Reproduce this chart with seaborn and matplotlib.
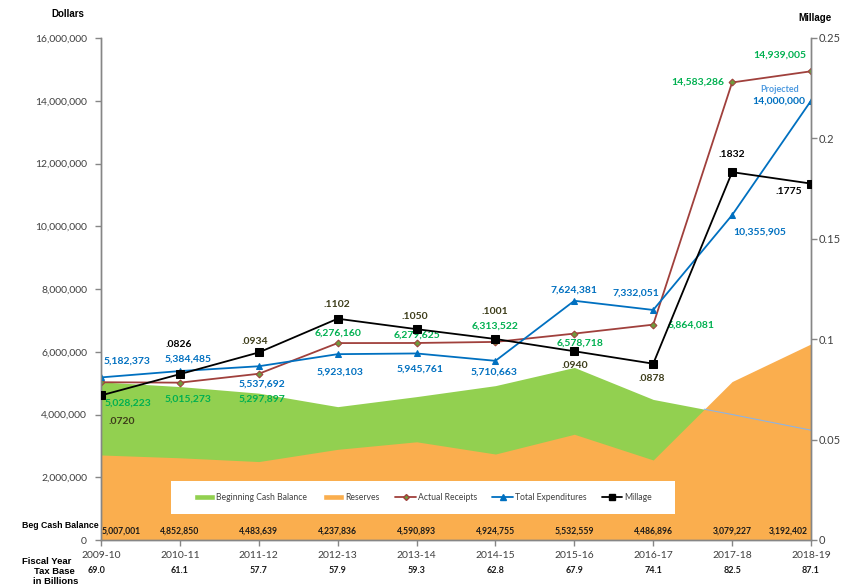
import matplotlib
matplotlib.use("Agg")
import matplotlib.pyplot as plt
import seaborn as sns
import pandas as pd
from matplotlib.lines import Line2D
from matplotlib.patches import Patch, Rectangle
from matplotlib.ticker import FuncFormatter

years = ["2009-10", "2010-11", "2011-12", "2012-13", "2013-14",
         "2014-15", "2015-16", "2016-17", "2017-18", "2018-19"]
beg_cash = [5007001, 4852850, 4483639, 4237836, 4590893,
            4924755, 5532559, 4486896, 3079227, 3192402]
cash_area = [5040000, 4890000, 4680000, 4250000, 4570000,
             4920000, 5500000, 4480000, 4000000, 3500000]
reserves = [2710000, 2620000, 2500000, 2890000, 3130000,
            2740000, 3370000, 2550000, 5050000, 6250000]
receipts = [5028223, 5015273, 5297897, 6276160, 6279625,
            6313522, 6578718, 6864081, 14583286, 14939005]
expenditures = [5182373, 5384485, 5537692, 5923103, 5945761,
                5710663, 7624381, 7332051, 10355905, 14000000]
millage = [0.0720, 0.0826, 0.0934, 0.1102, 0.1050,
           0.1001, 0.0940, 0.0878, 0.1832, 0.1775]
tax_base = [69.0, 61.1, 57.7, 57.9, 59.3, 62.8, 67.9, 74.1, 82.5, 87.1]

GREEN = "#92D050"
ORANGE = "#FAAE4E"
BROWN = "#A0403C"
BLUE = "#0070C0"
LBL_GREEN = "#00B050"
OLIVE = "#3D3D1A"
AXC = "#868686"
TXT = "#404040"

sns.set_style("white")
plt.rcParams["font.family"] = ["Lato", "DejaVu Sans"]

df = pd.DataFrame({"x": range(len(years)), "receipts": receipts,
                   "expenditures": expenditures, "millage": millage})

fig = plt.figure(figsize=(8.43, 5.87), dpi=100)
ax = fig.add_axes([101 / 843, 1 - 540 / 587, 710 / 843, 502 / 587])
ax2 = ax.twinx()

x = df["x"]
ax.fill_between(x, cash_area, color=GREEN, lw=0, zorder=1)
ax.fill_between(x, reserves, color=ORANGE, lw=0, zorder=2)

# edge of the cash area where it runs out from under the reserves
g0, g1 = cash_area[7], cash_area[8]
r0, r1 = reserves[7], reserves[8]
t = (g0 - r0) / ((r1 - r0) - (g1 - g0))
ax.plot([7 + t, 8, 9], [g0 + t * (g1 - g0), g1, cash_area[9]],
        color="#8DB3E2", lw=0.8, zorder=2.5)

sns.lineplot(data=df, x="x", y="receipts", ax=ax, color=BROWN, lw=1.3,
             marker="D", markersize=3.5, markerfacecolor="#6E9A3C",
             markeredgecolor=BROWN, zorder=3)
sns.lineplot(data=df, x="x", y="expenditures", ax=ax, color=BLUE, lw=1.3,
             marker="^", markersize=5, markeredgecolor=BLUE, zorder=4)
sns.lineplot(data=df, x="x", y="millage", ax=ax2, color="black", lw=1.3,
             marker="s", markersize=6, markeredgecolor="black", zorder=5)

ax.set_xlim(0, 9)
ax.set_ylim(0, 16000000)
ax2.set_ylim(0, 0.25)
ax.set_yticks(range(0, 16000001, 2000000))
ax2.set_yticks([0, 0.05, 0.1, 0.15, 0.2, 0.25])
ax2.set_yticklabels(["0", "0.05", "0.1", "0.15", "0.2", "0.25"])
ax.yaxis.set_major_formatter(FuncFormatter(lambda v, p: f"{int(v):,}"))
ax.set_xticks(range(len(years)))
ax.set_xticklabels(years)
for a in (ax, ax2):
    a.set_xlabel("")
    a.set_ylabel("")
    a.spines["top"].set_visible(False)
    for s in ("left", "right", "bottom"):
        a.spines[s].set_color(AXC)
        a.spines[s].set_linewidth(1)
    a.tick_params(axis="both", colors=AXC, labelcolor=TXT, labelsize=7.5,
                  length=4, width=1, direction="out")
ax.tick_params(axis="y", left=True, pad=6)
ax2.tick_params(axis="y", right=True, pad=1.5, labelsize=8)
ax.tick_params(axis="x", bottom=True, pad=4)


def lbl(axis, xi, yi, text, dx, dy, color, size=7.5, ha="center"):
    axis.annotate(text, (xi, yi), xytext=(dx * 0.72, dy * 0.72),
                  textcoords="offset points", ha=ha, va="center",
                  color=color, fontsize=size, fontweight="bold", zorder=10)


rec_off = [(27, -21), (8, -16), (3, -25), (0, 10), (0, 8),
           (0, 16), (6, -10), (38, 0), (-34, 0), (-31, 16)]
exp_off = [(26, 16), (8, 12), (3, -18), (2, -18), (4, -16),
           (-1, -11), (0, 11), (-17, 17), (28, -17), (-32, 0)]
mil_off = [(21, -26), (-1, 30), (-4, 11), (-1, 14), (-2, 13),
           (-1, 27), (1, -14), (-1, -15), (0, 18), (-22, -8)]
mil_col = [OLIVE, "black", OLIVE, OLIVE, OLIVE, OLIVE, OLIVE, OLIVE,
           "black", "black"]

for i in range(len(years)):
    lbl(ax, i, receipts[i], f"{receipts[i]:,}", *rec_off[i], LBL_GREEN)
    lbl(ax, i, expenditures[i], f"{expenditures[i]:,}", *exp_off[i], BLUE)
    lbl(ax2, i, millage[i], f"{millage[i]:.4f}"[1:], *mil_off[i], mil_col[i])
lbl(ax, 9, expenditures[9], "Projected", -31, 11, "#4F9BE0", size=6.5)

# bottom table rows
tr = ax.get_xaxis_transform()
for i in range(len(years)):
    xo = 0.25 if i == 0 else (-0.29 if i == 9 else 0)
    ax.text(i + xo, 0.017, f"{beg_cash[i]:,}", transform=tr, ha="center",
            va="center", fontsize=6.2, fontweight="bold", color="#1A1A1A",
            zorder=10)
    ax.text(i - (0.06 if i == 0 else 0), -0.06, f"{tax_base[i]:.1f}",
            transform=tr, ha="center", va="center", fontsize=6.5,
            fontweight="bold", color="#1A1A1A")

bold = dict(fontweight="bold", color="black", family=["Liberation Sans"])
fig.text(68 / 843, 1 - 14 / 587, "Dollars", ha="center", va="center",
         fontsize=7, **bold)
fig.text(815 / 843, 1 - 18 / 587, "Millage", ha="center", va="center",
         fontsize=7, **bold)
fig.text(60 / 843, 1 - 525 / 587, "Beg Cash Balance", ha="center",
         va="center", fontsize=6.3, **bold)
fig.text(47 / 843, 1 - 561 / 587, "Fiscal Year", ha="center", va="center",
         fontsize=6.8, **bold)
fig.text(54 / 843, 1 - 572 / 587, "Tax Base", ha="center", va="center",
         fontsize=6.8, **bold)
fig.text(56 / 843, 1 - 582 / 587, "in Billions", ha="center", va="center",
         fontsize=6.8, **bold)

# legend box
ax2.add_patch(Rectangle((70 / 710, 26 / 502), 504 / 710, 33 / 502,
                        transform=ax2.transAxes, facecolor="white",
                        edgecolor="none", zorder=8))
handles = [
    Patch(facecolor=GREEN, label="Beginning Cash Balance"),
    Patch(facecolor=ORANGE, label="Reserves"),
    Line2D([], [], color=BROWN, lw=1.3, marker="D", markersize=3,
           markerfacecolor="#6E9A3C", label="Actual Receipts"),
    Line2D([], [], color=BLUE, lw=1.3, marker="^", markersize=4.5,
           label="Total Expenditures"),
    Line2D([], [], color="black", lw=1.3, marker="s", markersize=4,
           label="Millage"),
]
leg = ax2.legend(handles=handles, loc="center", ncol=5, frameon=False,
                 bbox_to_anchor=(322 / 710, 42.5 / 502), fontsize=6.2,
                 handlelength=2.4, handleheight=0.7, handletextpad=0.2,
                 columnspacing=1.8, labelcolor=TXT)
leg.set_zorder(9)

fig.savefig("out.png", dpi=100)
